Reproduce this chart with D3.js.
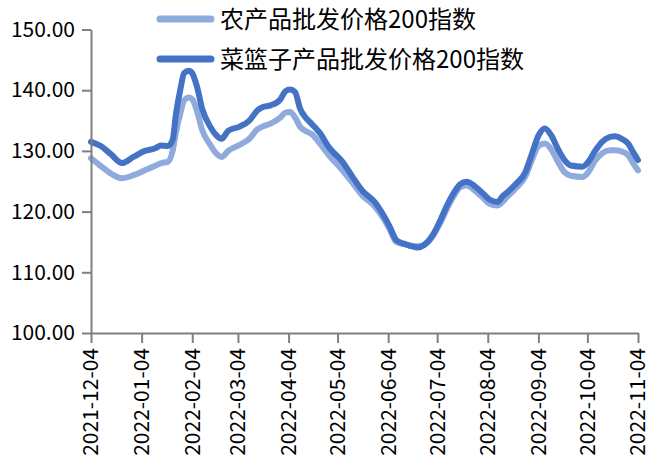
<!DOCTYPE html>
<html>
<head>
<meta charset="utf-8">
<script src="https://cdn.jsdelivr.net/npm/d3@7/dist/d3.min.js"></script>
<style>
  body { margin: 0; background: #fff; }
  svg text { font-family: "Noto Sans CJK SC", "DejaVu Sans", sans-serif; fill: #000; }
</style>
</head>
<body>
<div id="chart"></div>
<script>
// ===== data ===================================================
const dates = [
  "2021-12-04","2021-12-10","2021-12-16","2021-12-23","2021-12-30",
  "2022-01-06","2022-01-12","2022-01-16","2022-01-20","2022-01-23","2022-01-25","2022-01-28","2022-01-30",
  "2022-02-02","2022-02-04","2022-02-07","2022-02-10","2022-02-15","2022-02-19","2022-02-22","2022-02-26",
  "2022-03-05","2022-03-11","2022-03-16","2022-03-19","2022-03-24","2022-03-30",
  "2022-04-02","2022-04-05","2022-04-08","2022-04-11","2022-04-15","2022-04-18","2022-04-23","2022-04-29",
  "2022-05-07","2022-05-13","2022-05-19","2022-05-27",
  "2022-06-02","2022-06-05","2022-06-09","2022-06-14","2022-06-22","2022-06-26",
  "2022-07-01","2022-07-06","2022-07-10","2022-07-14","2022-07-18","2022-07-22","2022-07-27",
  "2022-08-01","2022-08-05","2022-08-10","2022-08-13","2022-08-16","2022-08-21","2022-08-27","2022-08-31",
  "2022-09-04","2022-09-08","2022-09-12","2022-09-16","2022-09-20","2022-09-24",
  "2022-10-01","2022-10-04","2022-10-09","2022-10-13","2022-10-18","2022-10-21","2022-10-25","2022-10-29",
  "2022-11-01","2022-11-04"
];
// 农产品批发价格200指数
const farmIndex = [
  128.8,127.5,126.3,125.5,126.0,
  126.8,127.5,128.0,128.2,130.0,133.0,136.5,138.3,
  138.8,138.5,136.5,133.5,131.0,129.5,129.0,130.0,
  131.0,132.0,133.6,134.0,134.5,135.5,
  136.3,136.4,135.5,134.0,133.2,132.8,131.3,129.2,
  126.8,124.8,122.7,120.8,
  118.5,117.0,115.0,114.6,114.3,114.5,
  115.8,118.2,120.5,122.5,124.0,124.3,123.5,
  122.3,121.3,121.0,121.6,122.5,123.8,125.8,128.5,
  130.8,131.2,130.2,128.2,126.5,125.9,
  125.7,126.3,128.5,129.6,130.1,130.1,129.9,129.3,
  128.0,126.8
];
// 菜篮子产品批发价格200指数
const basketIndex = [
  131.5,130.8,129.5,128.0,129.0,
  130.0,130.4,130.9,130.8,131.8,136.0,140.5,142.8,
  143.2,142.8,140.5,137.0,134.0,132.5,132.0,133.3,
  134.0,135.0,136.7,137.2,137.5,138.5,
  139.8,140.1,139.7,137.0,135.3,134.5,133.0,130.5,
  128.2,125.8,123.5,121.5,
  119.0,117.5,115.3,114.7,114.1,114.5,
  116.0,118.6,121.0,123.0,124.5,124.9,124.2,
  123.0,122.0,121.6,122.5,123.2,124.5,126.5,129.5,
  132.5,133.7,132.5,130.3,128.5,127.6,
  127.4,128.0,130.1,131.5,132.3,132.4,132.0,131.2,
  129.8,128.5
];
const seriesNames = ["农产品批发价格200指数", "菜篮子产品批发价格200指数"];
const tickDates = ["2021-12-04","2022-01-04","2022-02-04","2022-03-04","2022-04-04","2022-05-04",
  "2022-06-04","2022-07-04","2022-08-04","2022-09-04","2022-10-04","2022-11-04"];
const yTicks = [100, 110, 120, 130, 140, 150];

// ===== layout ================================================
const svgWidth = 647, svgHeight = 463;
const margin = { top: 29.5, left: 91, right: 9, bottom: 130 };
const width = svgWidth - margin.left - margin.right;
const height = svgHeight - margin.top - margin.bottom;
const colors = ["#8faadc", "#4472c4"];
const axisColor = "#7f7f7f";

const parse = d3.timeParse("%Y-%m-%d");

const svg = d3.select("#chart").append("svg")
  .attr("width", svgWidth)
  .attr("height", svgHeight);
const g = svg.append("g").attr("transform", `translate(${margin.left},${margin.top})`);

const x = d3.scaleTime()
  .domain([parse(tickDates[0]), parse(tickDates[tickDates.length - 1])])
  .range([0, width]);
const y = d3.scaleLinear().domain([100, 150]).range([height, 0]);

// lines
const line = d3.line()
  .x(d => x(d.date))
  .y(d => y(d.v))
  .curve(d3.curveMonotoneX);

[farmIndex, basketIndex].forEach((vals, i) => {
  const pts = dates.map((d, k) => ({ date: parse(d), v: vals[k] }));
  g.append("path")
    .datum(pts)
    .attr("fill", "none")
    .attr("stroke", colors[i])
    .attr("stroke-width", 6)
    .attr("stroke-linejoin", "round")
    .attr("stroke-linecap", "round")
    .attr("d", line);
});

// axes
const yAxis = g.append("g")
  .call(d3.axisLeft(y).tickValues(yTicks).tickSize(9).tickSizeOuter(0).tickFormat(d3.format(".2f")));
yAxis.selectAll("text").attr("x", -16).style("font-size", "21px");

const xAxis = g.append("g")
  .attr("transform", `translate(0,${height})`)
  .call(d3.axisBottom(x).tickValues(tickDates.map(parse)).tickSize(10).tickSizeOuter(0)
    .tickFormat(d3.timeFormat("%Y-%m-%d")));
xAxis.selectAll("text")
  .attr("transform", "rotate(-90)")
  .attr("x", -15)
  .attr("y", 0)
  .attr("dy", "0.33em")
  .attr("text-anchor", "end")
  .style("font-size", "21px");

[yAxis, xAxis].forEach(a => {
  a.select(".domain").attr("stroke", axisColor).attr("stroke-width", 2);
  a.selectAll(".tick line").attr("stroke", axisColor).attr("stroke-width", 2);
  a.attr("font-family", null);
});

// legend
const legend = svg.append("g").attr("transform", "translate(158,19)");
seriesNames.forEach((name, i) => {
  const row = legend.append("g").attr("transform", `translate(0,${i * 40})`);
  row.append("line")
    .attr("x1", 2).attr("x2", 53)
    .attr("stroke", colors[i])
    .attr("stroke-width", 7)
    .attr("stroke-linecap", "round");
  row.append("text")
    .attr("x", 62)
    .attr("dy", "0.36em")
    .style("font-size", "24px")
    .text(name);
});
</script>
</body>
</html>
